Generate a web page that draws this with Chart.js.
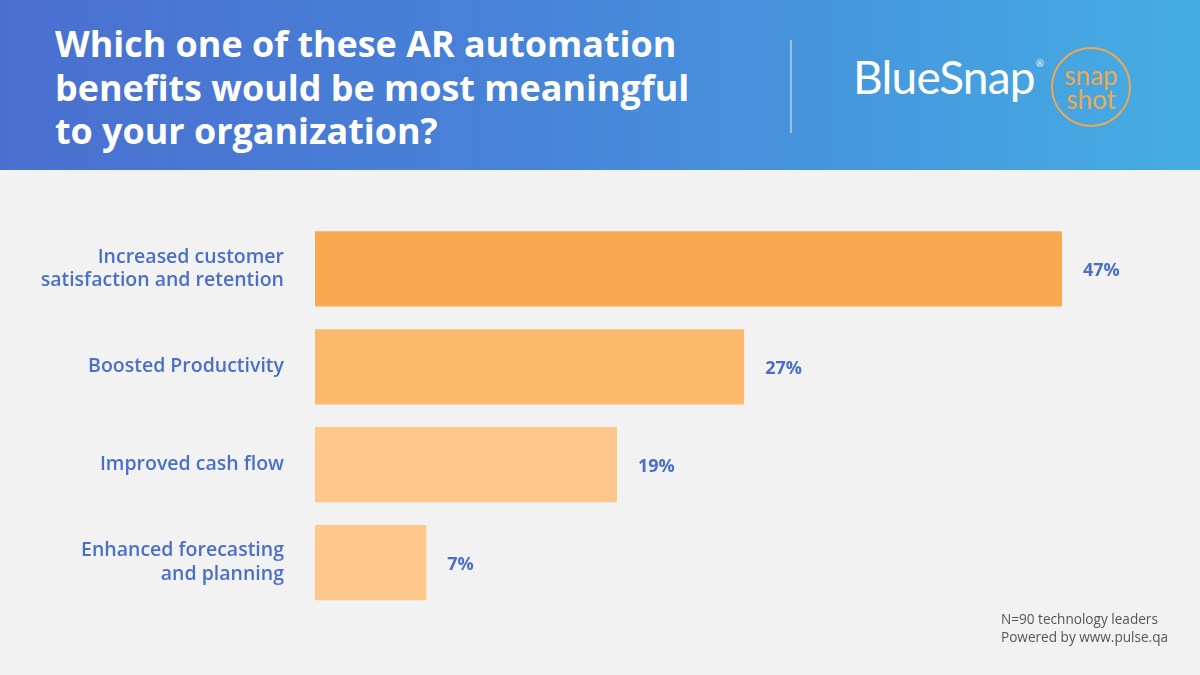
<!DOCTYPE html>
<html>
<head>
<meta charset="utf-8">
<script src="https://cdn.jsdelivr.net/npm/chart.js@4"></script>
<style>
  html, body { margin: 0; padding: 0; }
  body { width: 1200px; height: 675px; background: #f2f2f2; position: relative; overflow: hidden; font-family: "Open Sans", sans-serif; }
  #header {
    position: absolute; left: 0; top: 0; width: 1200px; height: 170px;
    background: linear-gradient(90deg, #4a6fd0 0%, #4784d8 45%, #45ade3 100%);
  }
  #title {
    position: absolute; left: 55px; top: 22px; color: #fff;
    font-family: "Open Sans", sans-serif; font-weight: 700; font-size: 35.9px; line-height: 43.5px;
  }
  #divider { position: absolute; left: 790px; top: 40px; width: 2px; height: 93px; background: rgba(255,255,255,0.45); }
  #logo { position: absolute; left: 853px; top: 54px; color: #fff; font-family: "Lato", sans-serif; font-size: 46px; letter-spacing: -0.8px; line-height: 1; }
  #logo sup { font-size: 10px; vertical-align: top; position: relative; top: 4px; margin-left: 1px; }
  #snap {
    position: absolute; left: 1051px; top: 47px; width: 80px; height: 80px; border: 2px solid #eea950;
    border-radius: 50%; color: #eea950; font-family: "Lato", sans-serif; font-size: 26px; line-height: 24px;
    text-align: center; box-sizing: border-box; padding-top: 14px;
  }
  #chartBox { position: absolute; left: 0; top: 170px; width: 1200px; height: 505px; }
  #note { position: absolute; left: 1001px; top: 610px; color: #555; font-size: 13.6px; line-height: 18px; }
</style>
</head>
<body>
<div id="header">
  <div id="title">Which one of these AR automation<br>benefits would be most meaningful<br>to your organization?</div>
  <div id="divider"></div>
  <div id="logo">BlueSnap<sup>®</sup></div>
  <div id="snap">snap<br>shot</div>
</div>
<div id="chartBox"><canvas id="chart"></canvas></div>
<div id="note">N=90 technology leaders<br>Powered by www.pulse.qa</div>
<script>
const categories = [
  ['Increased customer', 'satisfaction and retention'],
  'Boosted Productivity',
  'Improved cash flow',
  ['Enhanced forecasting', 'and planning']
];
const values = [47, 27, 19, 7];
const barColors = ['#f9aa50', '#fdb96c', '#fec88c', '#fec88c'];

const valueLabels = {
  id: 'valueLabels',
  afterDatasetsDraw(chart) {
    const ctx = chart.ctx;
    const meta = chart.getDatasetMeta(0);
    ctx.save();
    ctx.font = '700 18px "Open Sans", sans-serif';
    ctx.fillStyle = '#4a6fc8';
    ctx.textBaseline = 'middle';
    ctx.textAlign = 'left';
    meta.data.forEach((bar, i) => {
      ctx.fillText(values[i] + '%', bar.x + 21, bar.y + 2);
    });
    ctx.restore();
  }
};

const ctx = document.getElementById('chart').getContext('2d');
const chart = new Chart(ctx, {
  type: 'bar',
  data: {
    labels: categories,
    datasets: [{
      data: values,
      backgroundColor: barColors,
      borderWidth: 0,
      categoryPercentage: 1,
      barPercentage: 0.77
    }]
  },
  options: {
    indexAxis: 'y',
    responsive: true,
    maintainAspectRatio: false,
    animation: false,
    layout: { autoPadding: false, padding: { top: 50, bottom: 63.5, right: 138, left: 0 } },
    plugins: { legend: { display: false }, tooltip: { enabled: false } },
    scales: {
      x: { display: false, min: 0, max: 47 },
      y: {
        grid: { display: false, drawTicks: false },
        border: { display: false },
        afterFit(scale) {
          scale.width = 315;
          // stop the two-line labels from pushing the plot area down
          scale.paddingTop = 0;
          scale.paddingBottom = 0;
        },
        ticks: {
          padding: 31,
          color: '#4a6fc8',
          font: { family: '"Open Sans", sans-serif', size: 19.5, weight: '600', lineHeight: 1.23 }
        }
      }
    }
  },
  plugins: [valueLabels]
});
</script>
</body>
</html>
